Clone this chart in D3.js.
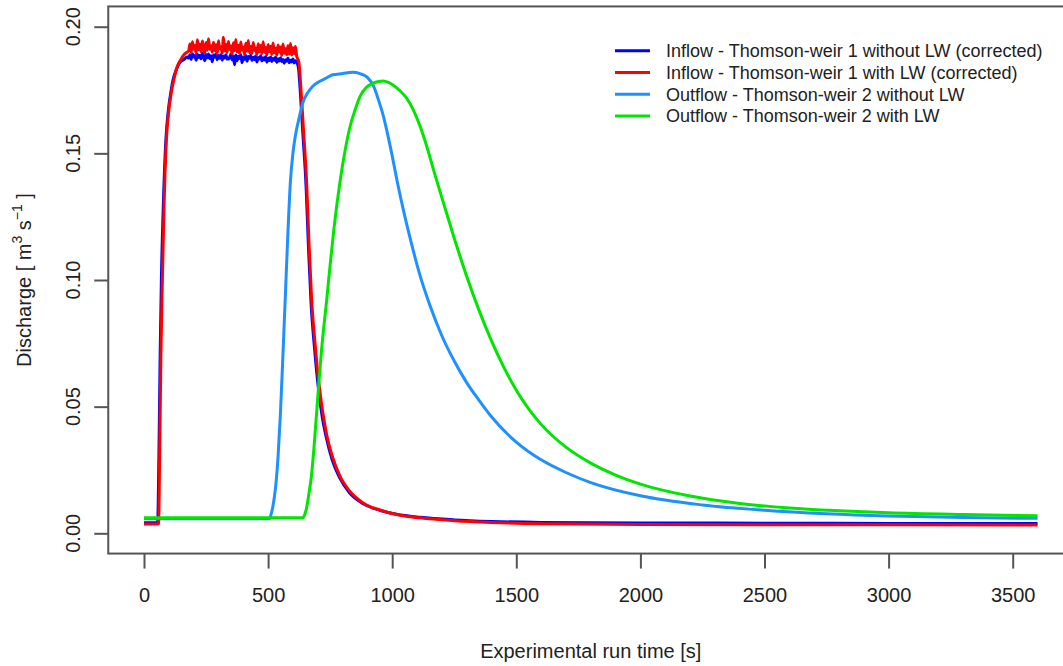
<!DOCTYPE html>
<html>
<head>
<meta charset="utf-8">
<script src="https://cdn.jsdelivr.net/npm/d3@7"></script>
<style>
  body { margin: 0; background: #fff; }
  svg { display: block; font-family: Arial, "Liberation Sans", sans-serif; }
</style>
</head>
<body>
<svg id="chart"></svg>
<script>
// ---------------------------------------------------------------------------
// Data
// ---------------------------------------------------------------------------
const xTicks = [0, 500, 1000, 1500, 2000, 2500, 3000, 3500];
const yTicks = [0.00, 0.05, 0.10, 0.15, 0.20];

const legendLabels = [
    'Inflow - Thomson-weir 1 without LW (corrected)',
    'Inflow - Thomson-weir 1 with LW (corrected)',
    'Outflow - Thomson-weir 2 without LW',
    'Outflow - Thomson-weir 2 with LW',
];
const seriesColors = ['#0000ff', '#ff0000', '#1e90ff', '#00e600'];

// plateau sample times of the inflow hydrographs [s]
const plateauT = d3.range(180, 620, 5);

// Inflow without LW
const inNoHeadT = [0, 50, 55, 60, 65, 70, 78, 88, 98, 108, 117, 130, 145, 160, 174];
const inNoHeadQ = [0.0042, 0.0042, 0.0044, 0.030, 0.070, 0.100, 0.130, 0.155, 0.167, 0.174, 0.179, 0.183, 0.186, 0.187, 0.188];
const inNoPlateau = [
    0.1876, 0.1889, 0.1871, 0.1893, 0.1880, 0.1886, 0.1868, 0.1891, 0.1878, 0.1887,
    0.1873, 0.1895, 0.1882, 0.1866, 0.1890, 0.1877, 0.1892, 0.1874, 0.1885, 0.1862,
    0.1888, 0.1879, 0.1893, 0.1870, 0.1886, 0.1875, 0.1890, 0.1868, 0.1884, 0.1876,
    0.1889, 0.1872, 0.1872, 0.1880, 0.1891, 0.1869, 0.1884, 0.1850, 0.1888, 0.1866,
    0.1883, 0.1874, 0.1889, 0.1858, 0.1880, 0.1871, 0.1886, 0.1864, 0.1882, 0.1875,
    0.1887, 0.1867, 0.1879, 0.1870, 0.1884, 0.1861, 0.1878, 0.1872, 0.1885, 0.1865,
    0.1877, 0.1869, 0.1882, 0.1860, 0.1876, 0.1866, 0.1880, 0.1863, 0.1874, 0.1868,
    0.1879, 0.1859, 0.1873, 0.1865, 0.1877, 0.1862, 0.1871, 0.1856, 0.1870, 0.1864,
    0.1875, 0.1858, 0.1868, 0.1861, 0.1872, 0.1857, 0.1866, 0.1860,
];
const inNoTailT = [622, 630, 640, 653, 663, 673, 688, 703, 718, 734, 758, 788, 828, 881, 950, 1018, 1112, 1250, 1400, 1600, 2000, 2600, 3000, 3600];
const inNoTailQ = [0.184, 0.174, 0.158, 0.137, 0.112, 0.091, 0.072, 0.057, 0.046, 0.038, 0.029, 0.022, 0.016, 0.0118, 0.0091, 0.0075, 0.0063, 0.0053, 0.0047, 0.0043, 0.0041, 0.0040, 0.0039, 0.0039];

// Inflow with LW
const inLwHeadT = [0, 57, 59, 63, 68, 74, 81, 90, 100, 110, 120, 133, 148, 162, 174];
const inLwHeadQ = [0.0037, 0.0037, 0.0040, 0.030, 0.070, 0.100, 0.130, 0.155, 0.167, 0.174, 0.179, 0.184, 0.187, 0.189, 0.190];
const inLwPlateau = [
    0.1905, 0.1932, 0.1898, 0.1941, 0.1912, 0.1926, 0.1895, 0.1948, 0.1909, 0.1931,
    0.1901, 0.1944, 0.1915, 0.1897, 0.1938, 0.1907, 0.1952, 0.1911, 0.1925, 0.1899,
    0.1939, 0.1906, 0.1929, 0.1893, 0.1945, 0.1913, 0.1921, 0.1896, 0.1958, 0.1904,
    0.1930, 0.1898, 0.1942, 0.1910, 0.1924, 0.1892, 0.1937, 0.1905, 0.1949, 0.1900,
    0.1927, 0.1895, 0.1940, 0.1908, 0.1919, 0.1891, 0.1935, 0.1903, 0.1946, 0.1897,
    0.1922, 0.1894, 0.1938, 0.1906, 0.1916, 0.1889, 0.1933, 0.1901, 0.1926, 0.1893,
    0.1941, 0.1899, 0.1918, 0.1888, 0.1930, 0.1902, 0.1923, 0.1890, 0.1936, 0.1897,
    0.1915, 0.1887, 0.1928, 0.1900, 0.1920, 0.1886, 0.1932, 0.1895, 0.1913, 0.1889,
    0.1925, 0.1892, 0.1934, 0.1888, 0.1917, 0.1894, 0.1922, 0.1885,
];
const inLwTailT = [624, 632, 642, 655, 665, 675, 690, 705, 720, 736, 760, 790, 830, 883, 950, 1018, 1112, 1250, 1400, 1600, 2000, 2600, 3000, 3600];
const inLwTailQ = [0.186, 0.176, 0.160, 0.139, 0.114, 0.093, 0.074, 0.059, 0.048, 0.039, 0.030, 0.0225, 0.0165, 0.012, 0.0092, 0.0074, 0.0061, 0.0050, 0.0043, 0.0038, 0.0035, 0.0034, 0.0034, 0.0033];

// Outflow without LW
const outNoT = [0, 505, 512, 520, 530, 540, 550, 560, 570, 580, 590, 600, 610, 625, 640, 660, 680, 700, 730, 760, 800, 840, 870, 900, 925, 945, 965, 985, 1000, 1020, 1050, 1080, 1110, 1150, 1200, 1250, 1300, 1350, 1400, 1500, 1600, 1700, 1800, 2000, 2250, 2500, 2750, 3000, 3300, 3600];
const outNoQ = [0.0057, 0.0057, 0.0075, 0.011, 0.018, 0.030, 0.048, 0.071, 0.095, 0.119, 0.139, 0.150, 0.157, 0.164, 0.170, 0.174, 0.1765, 0.178, 0.1795, 0.181, 0.1815, 0.182, 0.1815, 0.180, 0.1765, 0.171, 0.1645, 0.156, 0.149, 0.139, 0.1255, 0.1135, 0.1025, 0.0905, 0.0780, 0.0680, 0.0595, 0.0525, 0.0460, 0.0360, 0.0290, 0.0240, 0.0200, 0.0148, 0.0112, 0.0091, 0.0077, 0.0068, 0.0062, 0.0059];

// Outflow with LW
const outLwT = [0, 640, 648, 655, 665, 675, 685, 695, 705, 715, 725, 736, 750, 765, 790, 810, 830, 850, 870, 895, 923, 945, 963, 985, 1003, 1030, 1058, 1085, 1112, 1140, 1165, 1200, 1250, 1300, 1350, 1400, 1450, 1500, 1600, 1700, 1800, 1900, 2000, 2200, 2400, 2600, 2800, 3000, 3300, 3600];
const outLwQ = [0.0061, 0.0061, 0.0075, 0.010, 0.016, 0.023, 0.034, 0.047, 0.060, 0.072, 0.082, 0.092, 0.106, 0.120, 0.139, 0.151, 0.1605, 0.167, 0.1724, 0.176, 0.1777, 0.1784, 0.1786, 0.1780, 0.1770, 0.1748, 0.1718, 0.1672, 0.1608, 0.1525, 0.1440, 0.1325, 0.1165, 0.1015, 0.0880, 0.0760, 0.0655, 0.0565, 0.0430, 0.0340, 0.0277, 0.0230, 0.0194, 0.0147, 0.0118, 0.0100, 0.0089, 0.0081, 0.0074, 0.0069];

// ---------------------------------------------------------------------------
// Build the point lists
// ---------------------------------------------------------------------------
function pts(ts, qs) { return ts.map((t, i) => ({ t, q: qs[i] })); }

const series = [
    [...pts(inNoHeadT, inNoHeadQ), ...pts(plateauT, inNoPlateau), ...pts(inNoTailT, inNoTailQ)],
    [...pts(inLwHeadT, inLwHeadQ), ...pts(plateauT, inLwPlateau), ...pts(inLwTailT, inLwTailQ)],
    pts(outNoT, outNoQ),
    pts(outLwT, outLwQ),
];

// ---------------------------------------------------------------------------
// Chart
// ---------------------------------------------------------------------------
const W = 1063, H = 666;
const svg = d3.select('#chart').attr('width', W).attr('height', H);
svg.append('rect').attr('width', W).attr('height', H).attr('fill', '#fff');

// R style: 4% padding round xlim = c(0, 3600), ylim = c(0, 0.2)
const x = d3.scaleLinear().domain([0, 3500]).range([144, 1012.7]);
const y = d3.scaleLinear().domain([0, 0.2]).range([533.3, 26.7]);
const x0 = x(-144), x1 = x(3744);
const y0 = y(-0.008), y1 = y(0.208);

const textColor = '#222';
const axisColor = '#555';

// Lines
const line = d3.line()
    .x(d => x(d.t))
    .y(d => y(d.q))
    .curve(d3.curveMonotoneX);

svg.append('g')
    .selectAll('path')
    .data(series)
    .enter()
    .append('path')
    .attr('fill', 'none')
    .attr('stroke', (d, i) => seriesColors[i])
    .attr('stroke-width', 3)
    .attr('stroke-linejoin', 'round')
    .attr('d', line);

// Box
svg.append('rect')
    .attr('x', x0).attr('y', y1)
    .attr('width', x1 - x0).attr('height', y0 - y1)
    .attr('fill', 'none')
    .attr('stroke', axisColor)
    .attr('stroke-width', 2);

// X axis
svg.append('g')
    .attr('transform', `translate(0,${y0})`)
    .call(d3.axisBottom(x).tickValues(xTicks).tickSize(15).tickPadding(19).tickFormat(d3.format('d')))
    .call(ax => ax.select('.domain').remove())
    .call(ax => ax.selectAll('.tick line').attr('stroke', axisColor).attr('stroke-width', 2))
    .call(ax => ax.selectAll('.tick text')
        .attr('fill', textColor)
        .attr('font-size', '20px')
        .attr('font-family', 'Arial, "Liberation Sans", sans-serif'));

// Y axis
svg.append('g')
    .attr('transform', `translate(${x0},0)`)
    .call(d3.axisLeft(y).tickValues(yTicks).tickSize(14).tickFormat(() => ''))
    .call(ax => ax.select('.domain').remove())
    .call(ax => ax.selectAll('.tick line').attr('stroke', axisColor).attr('stroke-width', 2));

svg.append('g')
    .selectAll('text')
    .data(yTicks)
    .enter()
    .append('text')
    .attr('transform', d => `translate(80,${y(d)}) rotate(-90)`)
    .attr('text-anchor', 'middle')
    .attr('fill', textColor)
    .attr('font-size', '20px')
    .text(d3.format('.2f'));

// Axis titles
svg.append('text')
    .attr('x', (x0 + x1) / 2)
    .attr('y', 658)
    .attr('text-anchor', 'middle')
    .attr('fill', textColor)
    .attr('font-size', '20px')
    .text('Experimental run time [s]');

const yTitle = svg.append('text')
    .attr('transform', `translate(31,${(y0 + y1) / 2}) rotate(-90)`)
    .attr('text-anchor', 'middle')
    .attr('fill', textColor)
    .attr('font-size', '20px');
yTitle.append('tspan').text('Discharge [ m');
yTitle.append('tspan').attr('font-size', '14px').attr('dy', -9).text('3');
yTitle.append('tspan').attr('dy', 9).text(' s');
yTitle.append('tspan').attr('font-size', '14px').attr('dy', -9).text('\u22121');
yTitle.append('tspan').attr('dy', 9).text(' ]');

// Legend
const legend = svg.append('g');
const rowY = d3.scalePoint().domain(d3.range(legendLabels.length)).range([50.7, 116]);

legend.selectAll('line')
    .data(legendLabels)
    .enter()
    .append('line')
    .attr('x1', 615).attr('x2', 650)
    .attr('y1', (d, i) => rowY(i)).attr('y2', (d, i) => rowY(i))
    .attr('stroke', (d, i) => seriesColors[i])
    .attr('stroke-width', 3);

legend.selectAll('text')
    .data(legendLabels)
    .enter()
    .append('text')
    .attr('x', 666)
    .attr('y', (d, i) => rowY(i))
    .attr('dy', '0.35em')
    .attr('fill', textColor)
    .attr('font-size', '18px')
    .text(d => d);
</script>
</body>
</html>
